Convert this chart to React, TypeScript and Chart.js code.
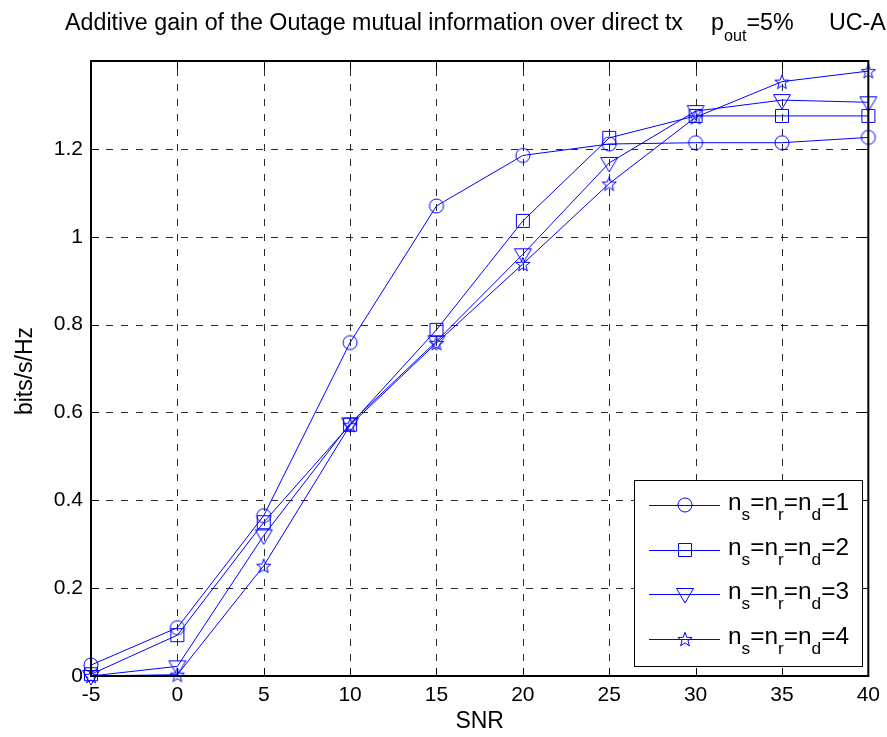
import React, { useEffect, useRef } from 'react';
import { Chart, registerables } from 'chart.js';

Chart.register(...registerables);

// ---- data ----
const snr = [-5, 0, 5, 10, 15, 20, 25, 30, 35, 40];
const gainN1 = [0.025, 0.11, 0.365, 0.759, 1.07, 1.185, 1.211, 1.214, 1.214, 1.226];
const gainN2 = [0.004, 0.093, 0.35, 0.572, 0.788, 1.036, 1.225, 1.275, 1.275, 1.275];
const gainN3 = [0.0, 0.022, 0.32, 0.575, 0.762, 0.96, 1.168, 1.286, 1.311, 1.306];
const gainN4 = [0.0, 0.003, 0.251, 0.571, 0.758, 0.938, 1.121, 1.272, 1.353, 1.377];
const seriesN = ['1', '2', '3', '4'];
const markerKinds = ['circle', 'square', 'triangle', 'star'];

const xMin = -5;
const xMax = 40;
const xStep = 5;
const yMin = 0;
const yMax = 1.4;
const yStep = 0.2;

const titleMain = 'Additive gain of the Outage mutual information over direct tx';
const titleP = 'p';
const titlePSub = 'out';
const titlePRest = '=5%';
const titleTag = 'UC-A';
const xLabel = 'SNR';
const yLabel = 'bits/s/Hz';

const FONT = '"Liberation Sans", Arial, Helvetica, sans-serif';
const BLUE = '#0000ff';

function makeMarker(kind: string): HTMLCanvasElement {
  const c = document.createElement('canvas');
  c.width = 26;
  c.height = 26;
  const g = c.getContext('2d')!;
  g.strokeStyle = BLUE;
  g.lineWidth = 1;
  const cx = 13;
  const cy = 13;
  g.beginPath();
  if (kind === 'circle') {
    g.arc(cx, cy, 7, 0, Math.PI * 2);
  } else if (kind === 'square') {
    g.rect(cx - 6.5, cy - 6.5, 13, 13);
  } else if (kind === 'triangle') {
    g.moveTo(cx - 8.5, cy - 5.5);
    g.lineTo(cx + 8.5, cy - 5.5);
    g.lineTo(cx, cy + 9);
    g.closePath();
  } else {
    for (let i = 0; i < 10; i++) {
      const a = -Math.PI / 2 + (i * Math.PI) / 5;
      const r = i % 2 === 0 ? 7.5 : 3.1;
      const px = cx + r * Math.cos(a);
      const py = cy + r * Math.sin(a) + 0.8;
      if (i === 0) g.moveTo(px, py);
      else g.lineTo(px, py);
    }
    g.closePath();
  }
  g.stroke();
  return c;
}

function textW(ctx: CanvasRenderingContext2D, text: string, font: string) {
  ctx.save();
  ctx.font = font;
  const w = ctx.measureText(text).width;
  ctx.restore();
  return w;
}

function drawText(
  ctx: CanvasRenderingContext2D,
  text: string,
  x: number,
  y: number,
  font: string,
  sx: number
) {
  ctx.save();
  ctx.font = font;
  ctx.fillStyle = '#000';
  ctx.textAlign = 'left';
  ctx.textBaseline = 'alphabetic';
  ctx.translate(x, y);
  ctx.scale(sx, 1);
  ctx.fillText(text, 0, 0);
  ctx.restore();
  return textW(ctx, text, font) * sx;
}

const matlabPlugin = {
  id: 'matlabLook',
  beforeDatasetsDraw(chart: any) {
    const { ctx, chartArea: ca, scales } = chart;
    const xs = scales.x;
    const ys = scales.y;
    ctx.save();
    ctx.strokeStyle = '#2a2a2a';
    ctx.lineWidth = 1;
    ctx.setLineDash([7, 8]);
    for (let v = xMin + xStep; v < xMax - 1e-9; v += xStep) {
      const px = Math.round(xs.getPixelForValue(v)) + 0.5;
      ctx.beginPath();
      ctx.moveTo(px, ca.bottom);
      ctx.lineTo(px, ca.top);
      ctx.stroke();
    }
    for (let i = 1; yMin + i * yStep < yMax - 1e-9; i++) {
      const py = Math.round(ys.getPixelForValue(yMin + i * yStep)) + 0.5;
      ctx.beginPath();
      ctx.moveTo(ca.left, py);
      ctx.lineTo(ca.right, py);
      ctx.stroke();
    }
    ctx.restore();
  },
  afterDatasetsDraw(chart: any) {
    const { ctx, chartArea: ca, scales } = chart;
    const xs = scales.x;
    const ys = scales.y;
    ctx.save();
    // inner tick marks
    ctx.strokeStyle = '#000';
    ctx.lineWidth = 1;
    const tl = 8;
    for (let v = xMin; v <= xMax + 1e-9; v += xStep) {
      const px = Math.round(xs.getPixelForValue(v)) + 0.5;
      ctx.beginPath();
      ctx.moveTo(px, ca.bottom);
      ctx.lineTo(px, ca.bottom - tl);
      ctx.moveTo(px, ca.top);
      ctx.lineTo(px, ca.top + tl);
      ctx.stroke();
    }
    for (let i = 0; yMin + i * yStep <= yMax + 1e-9; i++) {
      const py = Math.round(ys.getPixelForValue(yMin + i * yStep)) + 0.5;
      ctx.beginPath();
      ctx.moveTo(ca.left, py);
      ctx.lineTo(ca.left + tl, py);
      ctx.moveTo(ca.right, py);
      ctx.lineTo(ca.right - tl, py);
      ctx.stroke();
    }
    // box
    ctx.lineWidth = 2;
    ctx.strokeRect(ca.left, ca.top, ca.right - ca.left, ca.bottom - ca.top);

    // legend
    const lx0 = 634;
    const ly0 = 480;
    const lx1 = 862;
    const ly1 = 666;
    ctx.fillStyle = '#fff';
    ctx.fillRect(lx0, ly0, lx1 - lx0, ly1 - ly0);
    ctx.lineWidth = 1;
    ctx.strokeStyle = '#000';
    ctx.strokeRect(lx0 + 0.5, ly0 + 0.5, lx1 - lx0, ly1 - ly0);
    const rowsY = [505, 550, 594, 639];
    const mainF = `24px ${FONT}`;
    const subF = `17px ${FONT}`;
    chart.data.datasets.forEach((ds: any, i: number) => {
      const y = rowsY[i] + 0.5;
      ctx.strokeStyle = BLUE;
      ctx.lineWidth = 1;
      ctx.beginPath();
      ctx.moveTo(649, y);
      ctx.lineTo(720, y);
      ctx.stroke();
      const m = ds.pointStyle as HTMLCanvasElement;
      ctx.drawImage(m, 685 - m.width / 2, rowsY[i] - m.height / 2);
      const pieces: [string, boolean][] = [
        ['n', false],
        ['s', true],
        ['=n', false],
        ['r', true],
        ['=n', false],
        ['d', true],
        ['=' + seriesN[i], false],
      ];
      let total = 0;
      pieces.forEach(([t, s]) => (total += textW(ctx, t, s ? subF : mainF)));
      const sx = 121 / total;
      let x = 728;
      pieces.forEach(([t, s]) => {
        x += drawText(ctx, t, x, s ? rowsY[i] + 15 : rowsY[i] + 5, s ? subF : mainF, sx);
      });
    });

    // title
    const tF = `23px ${FONT}`;
    const tSub = `16px ${FONT}`;
    const tsx = 618 / textW(ctx, titleMain, tF);
    drawText(ctx, titleMain, 65, 30, tF, tsx);
    let px = 711;
    px += drawText(ctx, titleP, px, 30, tF, tsx);
    px += drawText(ctx, titlePSub, px, 41, tSub, tsx);
    drawText(ctx, titlePRest, px, 30, tF, tsx);
    drawText(ctx, titleTag, 829, 30, tF, tsx);

    // axis labels
    ctx.fillStyle = '#000';
    ctx.font = `23px ${FONT}`;
    ctx.textAlign = 'center';
    ctx.textBaseline = 'alphabetic';
    ctx.fillText(xLabel, (ca.left + ca.right) / 2, 728);
    ctx.save();
    ctx.translate(32, 371);
    ctx.rotate(-Math.PI / 2);
    ctx.font = `23px ${FONT}`;
    ctx.fillText(yLabel, 0, 0);
    ctx.restore();
    ctx.restore();
  },
};

export default function App() {
  const ref = useRef<HTMLCanvasElement | null>(null);
  useEffect(() => {
    document.body.style.margin = '0';
    const canvas = ref.current!;
    const series = [gainN1, gainN2, gainN3, gainN4];
    const chart = new Chart(canvas, {
      type: 'line',
      data: {
        datasets: series.map((vals, i) => ({
          label: 'n=' + seriesN[i],
          data: snr.map((s, j) => ({ x: s, y: vals[j] })),
          borderColor: BLUE,
          backgroundColor: 'rgba(0,0,0,0)',
          borderWidth: 1,
          pointStyle: makeMarker(markerKinds[i]) as any,
          pointRadius: 7,
          pointBorderColor: BLUE,
          pointBackgroundColor: 'rgba(0,0,0,0)',
          tension: 0,
          fill: false,
          clip: false as any,
        })),
      },
      options: {
        animation: false,
        responsive: false,
        devicePixelRatio: 1,
        events: [],
        layout: { padding: { left: 0, top: 61, right: 15, bottom: 0 } },
        plugins: {
          legend: { display: false },
          title: { display: false },
          tooltip: { enabled: false },
        },
        scales: {
          x: {
            type: 'linear',
            min: xMin,
            max: xMax,
            grid: { display: false, drawTicks: false, tickLength: 0 },
            border: { display: false },
            ticks: {
              stepSize: xStep,
              autoSkip: false,
              maxRotation: 0,
              padding: 7,
              color: '#000',
              font: { family: FONT, size: 21 },
              callback: (v: any) => String(Math.round(Number(v))),
            },
            afterFit: (s: any) => {
              s.height = 61;
            },
          },
          y: {
            type: 'linear',
            min: yMin,
            max: yMax,
            grid: { display: false, drawTicks: false, tickLength: 0 },
            border: { display: false },
            ticks: {
              stepSize: yStep,
              autoSkip: false,
              padding: 8,
              color: '#000',
              font: { family: FONT, size: 21 },
              callback: (v: any) => {
                const n = Math.round(Number(v) * 10) / 10;
                if (n >= yMax - 1e-9) return '';
                return String(n);
              },
            },
            afterFit: (s: any) => {
              s.width = 91;
            },
          },
        },
      },
      plugins: [matlabPlugin],
    });
    return () => chart.destroy();
  }, []);
  return (
    <div style={{ width: 887, height: 737, background: '#fff' }}>
      <canvas ref={ref} width={887} height={737} style={{ display: 'block' }} />
    </div>
  );
}
